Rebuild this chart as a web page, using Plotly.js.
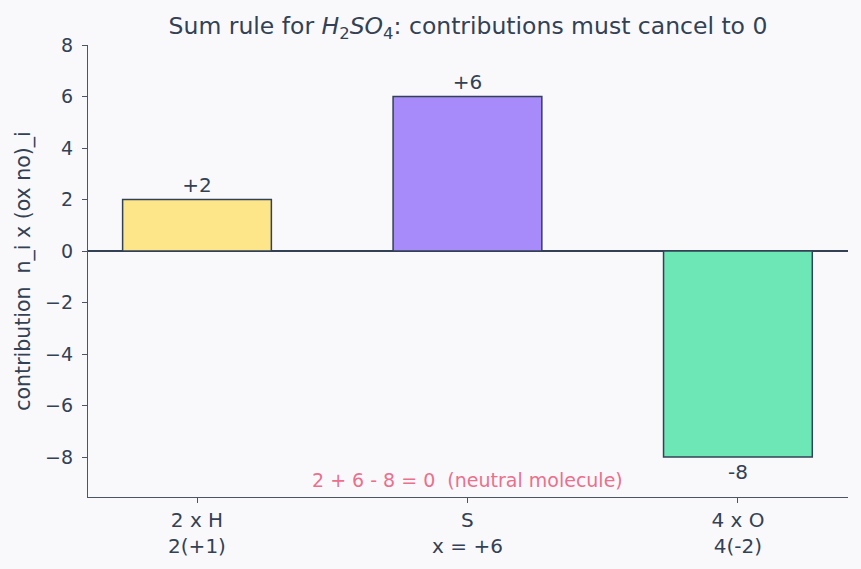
<!DOCTYPE html>
<html><head><meta charset="utf-8">
<script src="https://cdn.plot.ly/plotly-3.0.1.min.js"></script>
<style>html,body{margin:0;padding:0;background:#f9f9fc;}</style>
</head><body><div id="chart" style="width:861px;height:569px;"></div>
<script>
const categories = ["2 x H<br>2(+1)", "S<br>x = +6", "4 x O<br>4(-2)"];
const contributions = [2, 6, -8];
const barLabels = ["+2", "+6", "-8"];
const barColors = ["#fde68a", "#a78bfa", "#6ee7b7"];
const sumText = "2 + 6 - 8 = 0&nbsp; (neutral molecule)";
const yTitle = "contribution&nbsp; n_i x (ox no)_i";

const font = "DejaVu Sans, sans-serif";
const ink = "#334155";

Plotly.newPlot("chart", [{
  type: "bar",
  x: [0, 1, 2],
  y: contributions,
  width: 0.55,
  text: barLabels,
  textposition: "outside",
  cliponaxis: false,
  textfont: {family: font, size: 20, color: ink},
  marker: {color: barColors, line: {color: ink, width: 1.5}},
  hoverinfo: "skip"
}], {
  width: 861, height: 569,
  paper_bgcolor: "#f9f9fc", plot_bgcolor: "#f9f9fc",
  margin: {l: 88, r: 13, t: 45, b: 72},
  font: {family: font, color: ink, size: 19},
  showlegend: false,
  title: {text: "Sum rule for <i>H</i><sub>2</sub><i>SO</i><sub>4</sub>: contributions must cancel to 0",
          xref: "paper", x: 0.5, xanchor: "center", y: 0.954, yanchor: "middle",
          font: {family: font, size: 23.5, color: ink}},
  xaxis: {
    range: [-0.403, 2.407],
    tickvals: [0, 1, 2], ticktext: categories,
    showgrid: false, zeroline: false,
    showline: true, linecolor: "#4b5563", linewidth: 1.3,
    ticks: "outside", ticklen: 5, tickcolor: "#4b5563",
    tickfont: {family: font, size: 20, color: ink}
  },
  yaxis: {
    range: [-9.55, 8],
    tickvals: [-8, -6, -4, -2, 0, 2, 4, 6, 8],
    showgrid: false,
    zeroline: true, zerolinecolor: ink, zerolinewidth: 1.5,
    showline: true, linecolor: "#4b5563", linewidth: 1.3,
    ticks: "outside", ticklen: 5, tickcolor: "#4b5563",
    ticklabelstandoff: 5,
    tickfont: {family: font, size: 19, color: ink},
    title: {text: yTitle, font: {family: font, size: 20.5, color: ink}, standoff: 8}
  },
  annotations: [{
    x: 1, y: -8.9, xref: "x", yref: "y",
    text: sumText, showarrow: false,
    font: {family: font, size: 19, color: "#ec6f8c"}
  }]
}, {displayModeBar: false});
</script></body></html>
